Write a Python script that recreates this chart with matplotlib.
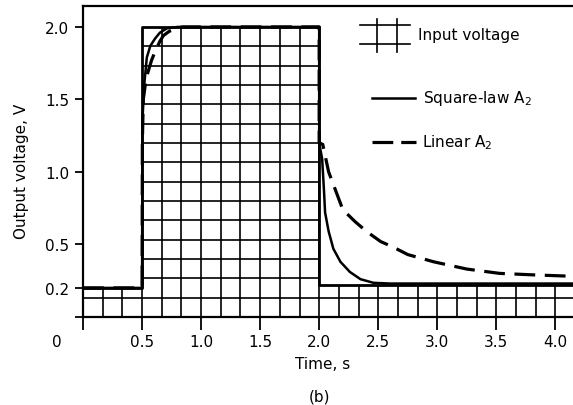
import numpy as np
import matplotlib
matplotlib.use("Agg")
import matplotlib.pyplot as plt
from matplotlib.patches import Polygon
from matplotlib.transforms import ScaledTranslation

# input voltage (square pulse), V
t_in = [0.0, 0.5, 0.5, 2.0, 2.0, 4.15]
v_in = [0.2, 0.2, 2.0, 2.0, 0.22, 0.22]

# square-law A2 output
t_sq = [0.0, 0.5, 0.502, 0.52, 0.54, 0.57, 0.61, 0.65, 0.71, 0.8, 2.0,
        2.0, 2.025, 2.04, 2.05, 2.08, 2.12, 2.18, 2.26, 2.35, 2.46, 2.6, 4.15]
v_sq = [0.2, 0.2, 1.35, 1.62, 1.79, 1.87, 1.92, 1.96, 1.99, 2.0, 2.0,
        1.2, 1.09, 0.88, 0.72, 0.59, 0.47, 0.38, 0.31, 0.26, 0.235, 0.23, 0.23]

# linear A2 output
t_lin = [0.0, 0.5, 0.502, 0.51, 0.53, 0.55, 0.58, 0.61, 0.65, 0.68, 0.73, 0.8, 0.84, 2.0,
         2.0, 2.03, 2.08, 2.14, 2.2, 2.3, 2.4, 2.52, 2.63, 2.75, 2.97, 3.25, 3.53, 3.81, 4.15]
v_lin = [0.2, 0.2, 1.2, 1.5, 1.62, 1.69, 1.77, 1.83, 1.9, 1.94, 1.97, 1.99, 2.0, 2.0,
         1.2, 1.19, 1.0, 0.87, 0.74, 0.66, 0.59, 0.52, 0.48, 0.43, 0.38, 0.33, 0.30, 0.29, 0.28]

xticks = [0, 0.5, 1.0, 1.5, 2.0, 2.5, 3.0, 3.5, 4.0]
xlabels = ["0", "0.5", "1.0", "1.5", "2.0", "2.5", "3.0", "3.5", "4.0"]
yticks = [0, 0.2, 0.5, 1.0, 1.5, 2.0]
ylabels = ["", "0.2", "0.5", "1.0", "1.5", "2.0"]

plt.rcParams['font.family'] = 'DejaVu Sans'

fig = plt.figure(figsize=(5.73, 4.06), dpi=100)
ax = fig.add_axes([0.145, 0.217, 0.855, 0.766])
ax.set_xlim(0, 4.15)
ax.set_ylim(0, 2.145)

# hatched input region: grid lines clipped to the pulse shape
verts = [(t_in[0], 0)] + list(zip(t_in, v_in)) + [(t_in[-1], 0)]
region = Polygon(verts, closed=True, facecolor='none', edgecolor='none')
ax.add_patch(region)
gx = np.arange(0, 4.2, 1 / 6)
gy = np.arange(0, 2.01, 2 / 15)
vl = ax.vlines(gx, 0, 2.1, colors='k', lw=1.2)
hl = ax.hlines(gy, 0, 4.15, colors='k', lw=1.2)
vl.set_clip_path(region)
hl.set_clip_path(region)
ax.plot(t_in, v_in, color='k', lw=2.0)

ax.plot(t_sq, v_sq, color='k', lw=1.8)
ax.plot(t_lin, v_lin, color='k', lw=2.3, dashes=(6.5, 3.0))

# legend drawn by hand
tr = ax.transAxes
for xx in [0.600, 0.641]:
    ax.plot([xx, xx], [0.852, 0.958], color='k', lw=1.2, transform=tr)
for yy in [0.878, 0.939]:
    ax.plot([0.565, 0.667], [yy, yy], color='k', lw=1.2, transform=tr)
ax.text(0.684, 0.907, "Input voltage", transform=tr, va='center', fontsize=11)
ax.plot([0.590, 0.678], [0.704, 0.704], color='k', lw=1.8, transform=tr)
ax.text(0.694, 0.704, "Square-law A$_2$", transform=tr, va='center', fontsize=11)
ax.plot([0.590, 0.680], [0.563, 0.563], color='k', lw=2.3, dashes=(6.5, 2.5), transform=tr)
ax.text(0.692, 0.563, "Linear A$_2$", transform=tr, va='center', fontsize=11)

ax.spines['right'].set_visible(False)
for s in ['left', 'top', 'bottom']:
    ax.spines[s].set_linewidth(1.6)

ax.set_xticks(xticks)
ax.set_xticklabels(xlabels, fontsize=11)
ax.set_yticks(yticks)
ax.set_yticklabels(ylabels, fontsize=11)
ax.tick_params(axis='x', length=9, width=1.3, pad=3)
ax.tick_params(axis='y', length=6, width=1.3, pad=4)
lab0 = ax.get_xticklabels()[0]
lab0.set_transform(lab0.get_transform() + ScaledTranslation(-0.26, 0, fig.dpi_scale_trans))

ax.set_xlabel("Time, s", fontsize=11)
ax.xaxis.set_label_coords(0.488, -0.125)
ax.set_ylabel("Output voltage, V", fontsize=11)
ax.yaxis.set_label_coords(-0.11, 0.47)

fig.text(0.558, 0.022, "(b)", ha='center', va='center', fontsize=11)

fig.savefig("out.png", dpi=100)
